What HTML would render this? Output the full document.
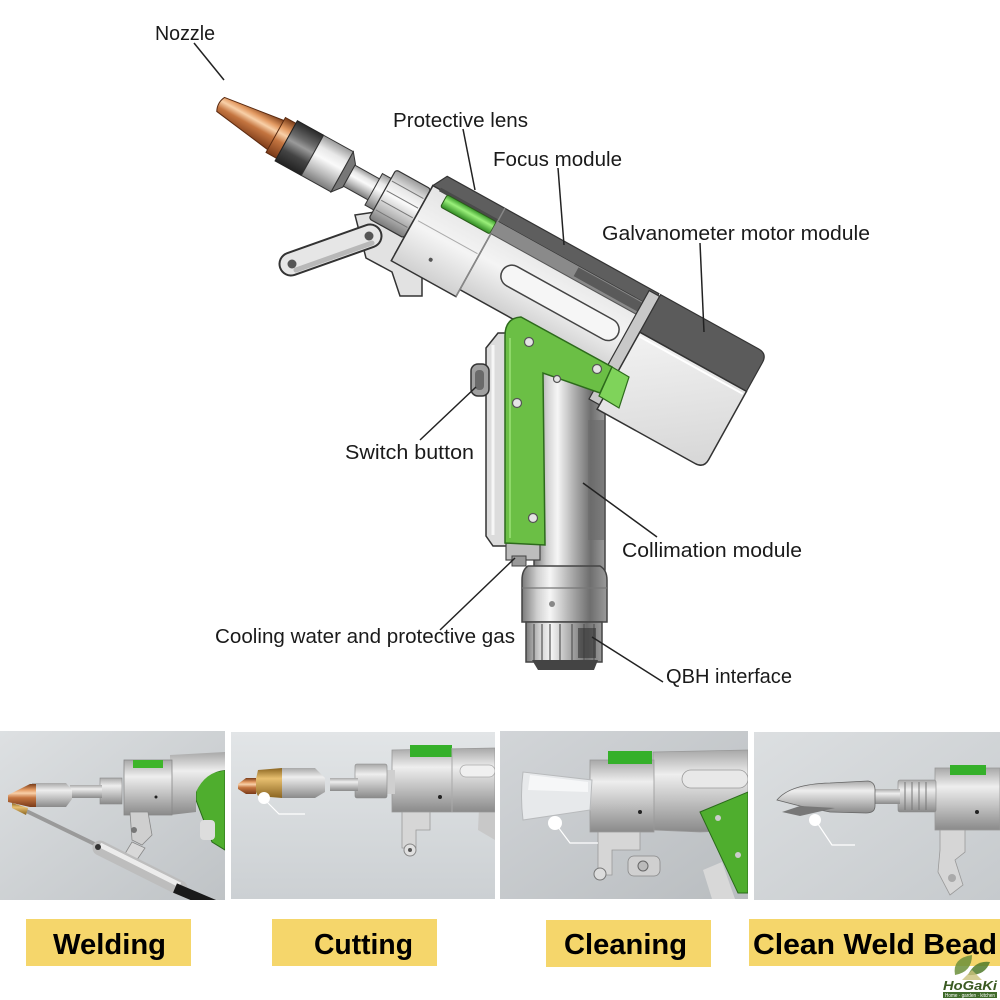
<!DOCTYPE html>
<html><head><meta charset="utf-8">
<style>
html,body{margin:0;padding:0;background:#fff;}
svg{display:block;}
text{font-family:"Liberation Sans",sans-serif;}
</style></head>
<body>
<svg width="1000" height="1000" viewBox="0 0 1000 1000" xmlns="http://www.w3.org/2000/svg">
<defs>
  <linearGradient id="copper" x1="0" y1="0" x2="0" y2="1">
    <stop offset="0" stop-color="#7a3c18"/><stop offset="0.25" stop-color="#e39a62"/>
    <stop offset="0.4" stop-color="#f8d0a8"/><stop offset="0.6" stop-color="#c47540"/>
    <stop offset="1" stop-color="#7a3a18"/>
  </linearGradient>
  <linearGradient id="darkcyl" x1="0" y1="0" x2="0" y2="1">
    <stop offset="0" stop-color="#2a2a2a"/><stop offset="0.3" stop-color="#6a6a6a"/>
    <stop offset="0.45" stop-color="#9a9a9a"/><stop offset="0.7" stop-color="#444"/>
    <stop offset="1" stop-color="#222"/>
  </linearGradient>
  <linearGradient id="silv" x1="0" y1="0" x2="0" y2="1">
    <stop offset="0" stop-color="#9a9a9a"/><stop offset="0.25" stop-color="#e8e8e8"/>
    <stop offset="0.45" stop-color="#fafafa"/><stop offset="0.75" stop-color="#b8b8b8"/>
    <stop offset="1" stop-color="#7a7a7a"/>
  </linearGradient>
  <linearGradient id="bodyg" x1="0" y1="0" x2="0" y2="1">
    <stop offset="0" stop-color="#e4e4e4"/><stop offset="0.5" stop-color="#f4f4f4"/>
    <stop offset="1" stop-color="#d0d0d0"/>
  </linearGradient>
  <linearGradient id="galvo" x1="0" y1="0" x2="1" y2="1">
    <stop offset="0" stop-color="#f2f2f2"/><stop offset="1" stop-color="#d6d6d6"/>
  </linearGradient>
  <linearGradient id="tube" x1="0" y1="0" x2="1" y2="0">
    <stop offset="0" stop-color="#7a7a7a"/><stop offset="0.18" stop-color="#d0d0d0"/>
    <stop offset="0.33" stop-color="#f6f6f6"/><stop offset="0.55" stop-color="#b4b4b4"/>
    <stop offset="0.8" stop-color="#6e6e6e"/><stop offset="1" stop-color="#9a9a9a"/>
  </linearGradient>
  <linearGradient id="greenlens" x1="0" y1="0" x2="0" y2="1">
    <stop offset="0" stop-color="#3a9a2a"/><stop offset="0.4" stop-color="#9af07a"/>
    <stop offset="1" stop-color="#2f8a22"/>
  </linearGradient>
  <linearGradient id="bg1" x1="0" y1="0" x2="1" y2="1">
    <stop offset="0" stop-color="#dde0e2"/><stop offset="1" stop-color="#bfc3c6"/>
  </linearGradient>
  <linearGradient id="bg2" x1="0" y1="0" x2="0" y2="1">
    <stop offset="0" stop-color="#e2e5e7"/><stop offset="1" stop-color="#ccd0d3"/>
  </linearGradient>
  <linearGradient id="bg3" x1="0" y1="0" x2="1" y2="1">
    <stop offset="0" stop-color="#d2d5d8"/><stop offset="1" stop-color="#b9bdc0"/>
  </linearGradient>
  <linearGradient id="bg4" x1="0" y1="0" x2="1" y2="1">
    <stop offset="0" stop-color="#dcdfe1"/><stop offset="1" stop-color="#c6cacd"/>
  </linearGradient>
  <linearGradient id="psil" x1="0" y1="0" x2="0" y2="1">
    <stop offset="0" stop-color="#a8a8a8"/><stop offset="0.3" stop-color="#eeeeee"/>
    <stop offset="0.6" stop-color="#c4c4c4"/><stop offset="1" stop-color="#8a8a8a"/>
  </linearGradient>
  <linearGradient id="brass" x1="0" y1="0" x2="0" y2="1">
    <stop offset="0" stop-color="#8a6420"/><stop offset="0.35" stop-color="#e8c070"/>
    <stop offset="1" stop-color="#8a6420"/>
  </linearGradient>
  <clipPath id="c1"><rect x="0" y="731" width="225" height="169"/></clipPath>
  <clipPath id="c2"><rect x="231" y="732" width="264" height="167"/></clipPath>
  <clipPath id="c3"><rect x="500" y="731" width="248" height="168"/></clipPath>
  <clipPath id="c4"><rect x="754" y="732" width="246" height="168"/></clipPath>
</defs>

<!-- ================= MAIN GUN ================= -->
<!-- trigger lever -->
<path d="M355,215 L402,208 L422,255 L422,296 L400,296 L392,272 L366,258 Z" fill="#e2e2e2" stroke="#333" stroke-width="1.5"/>
<line x1="291" y1="264" x2="370" y2="236" stroke="#333" stroke-width="25" stroke-linecap="round"/>
<line x1="291" y1="264" x2="370" y2="236" stroke="#e6e6e6" stroke-width="21" stroke-linecap="round"/>
<line x1="296" y1="270" x2="372" y2="243" stroke="#b8b8b8" stroke-width="5" stroke-linecap="round"/>
<circle cx="292" cy="264" r="4.5" fill="#555"/>
<circle cx="369" cy="236" r="4.5" fill="#555"/>

<!-- handle back and switch -->
<path d="M486,348 L498,333 L509,333 L509,546 L493,546 L486,536 Z" fill="#dcdcdc" stroke="#333" stroke-width="1.5"/>
<line x1="493" y1="345" x2="493" y2="535" stroke="#f6f6f6" stroke-width="3"/>
<rect x="471" y="364" width="18" height="32" rx="7" fill="#a0a0a0" stroke="#333" stroke-width="1.5"/>
<rect x="475" y="370" width="9" height="20" rx="4" fill="#6a6a6a"/>

<!-- collimation tube -->
<rect x="534" y="365" width="71" height="205" fill="url(#tube)" stroke="#444" stroke-width="1.5"/>
<rect x="588" y="420" width="16" height="120" fill="#6a6a6a" opacity="0.6"/>
<!-- bottom fittings -->
<rect x="506" y="540" width="34" height="20" fill="#bdbdbd" stroke="#444" stroke-width="1.2"/>
<rect x="512" y="556" width="14" height="10" fill="#999" stroke="#444" stroke-width="1"/>
<path d="M528,566 Q522,570 522,580 L522,622 L607,622 L607,580 Q607,570 600,566 Z" fill="url(#tube)" stroke="#444" stroke-width="1.5"/>
<line x1="522" y1="588" x2="607" y2="588" stroke="#777" stroke-width="1.2"/>
<circle cx="552" cy="604" r="3" fill="#888"/>
<rect x="526" y="622" width="76" height="40" fill="url(#tube)" stroke="#444" stroke-width="1.5"/>
<g stroke="#555" stroke-width="1.2">
  <line x1="534" y1="624" x2="534" y2="660"/><line x1="542" y1="624" x2="542" y2="660"/>
  <line x1="550" y1="624" x2="550" y2="660"/><line x1="560" y1="624" x2="560" y2="660"/>
  <line x1="572" y1="624" x2="572" y2="660"/><line x1="584" y1="624" x2="584" y2="660"/>
  <line x1="594" y1="624" x2="594" y2="660"/>
</g>
<rect x="578" y="628" width="18" height="30" fill="#333" opacity="0.6"/>
<path d="M532,660 L598,660 L594,670 L538,670 Z" fill="#444"/>

<!-- rotated barrel/body -->
<g transform="translate(218,103) rotate(29)">
  <!-- nozzle -->
  <path d="M3,-8 L68,-17 L68,17 L3,8 Q-1,0 3,-8 Z" fill="url(#copper)" stroke="#5a2a10" stroke-width="1"/>
  <rect x="66" y="-20" width="12" height="40" fill="url(#copper)" stroke="#5a2a10" stroke-width="1"/>
  <!-- dark cylinder -->
  <rect x="78" y="-23" width="30" height="46" fill="url(#darkcyl)" stroke="#222" stroke-width="1"/>
  <rect x="108" y="-23" width="34" height="46" fill="url(#silv)" stroke="#333" stroke-width="1"/>
  <path d="M142,-23 L150,-13 L150,13 L142,23 Z" fill="#777" stroke="#333" stroke-width="1"/>
  <!-- thin tube -->
  <rect x="150" y="-12" width="30" height="24" fill="url(#silv)" stroke="#333" stroke-width="1"/>
  <rect x="178" y="-18" width="10" height="36" fill="url(#silv)" stroke="#333" stroke-width="1"/>
  <!-- collar -->
  <rect x="188" y="-28" width="40" height="56" rx="3" fill="url(#silv)" stroke="#333" stroke-width="1.2"/>
  <g stroke="#777" stroke-width="1"><line x1="190" y1="-16" x2="226" y2="-16"/><line x1="190" y1="-5" x2="226" y2="-5"/><line x1="190" y1="6" x2="226" y2="6"/><line x1="190" y1="17" x2="226" y2="17"/></g>
  <!-- body -->
  <rect x="228" y="-32" width="250" height="78" fill="url(#bodyg)" stroke="#333" stroke-width="1.5"/>
  <rect x="228" y="-32" width="74" height="86" fill="url(#bodyg)" stroke="#333" stroke-width="1.5"/>
  <path d="M228,-32 L236,-47 L478,-47 L478,-32 Z" fill="#5e5e5e" stroke="#333" stroke-width="1.2"/>
  <rect x="236" y="-34" width="66" height="4" fill="#4a4a4a"/>
  <rect x="245" y="-31" width="56" height="14" rx="2" fill="url(#greenlens)" stroke="#2a5a1a" stroke-width="1"/>
  <line x1="302" y1="-47" x2="302" y2="54" stroke="#888" stroke-width="1.5"/>
  <rect x="302" y="-32" width="176" height="14" fill="#8a8a8a"/>
  <rect x="395" y="-31" width="78" height="10" fill="#5a5a5a"/>
  <line x1="302" y1="-18" x2="478" y2="-18" stroke="#555" stroke-width="1"/>
  <line x1="232" y1="6" x2="300" y2="6" stroke="#aaa" stroke-width="1"/>
  <rect x="330" y="-2" width="132" height="22" rx="11" fill="#f6f6f6" stroke="#444" stroke-width="1.5"/>
  <circle cx="262" cy="34" r="2" fill="#555"/>
  <!-- galvo -->
  <rect x="468" y="-45" width="12" height="124" fill="#c8c8c8" stroke="#333" stroke-width="1.2"/>
  <path d="M480,-47 L592,-47 Q602,-47 602,-37 L602,-4 L480,-4 Z" fill="#5b5b5b" stroke="#333" stroke-width="1.2"/>
  <path d="M480,-4 L602,-4 L602,74 Q602,84 592,84 L480,84 Z" fill="url(#galvo)" stroke="#333" stroke-width="1.5"/>
  <line x1="482" y1="0" x2="600" y2="0" stroke="#ffffff" stroke-width="2"/>
</g>

<!-- green L plate -->
<path d="M505,336 Q505,318 521,317 L612,367 L600,393 L543,373 L545,545 L505,543 Z" fill="#6bbf45" stroke="#2d6a1c" stroke-width="1.5"/>
<path d="M510,338 L510,538" stroke="#8fd86a" stroke-width="2"/>
<path d="M612,367 L629,377 L619,408 L599,396 Z" fill="#7fd35a" stroke="#2d6a1c" stroke-width="1.2"/>
<g fill="#e4e4e4" stroke="#555" stroke-width="1.2">
  <circle cx="529" cy="342" r="4.5"/><circle cx="597" cy="369" r="4.5"/>
  <circle cx="517" cy="403" r="4.5"/><circle cx="533" cy="518" r="4.5"/>
  <circle cx="557" cy="379" r="3.5"/>
</g>

<!-- leader lines -->
<g stroke="#222" stroke-width="1.5" fill="none">
  <line x1="194" y1="43" x2="224" y2="80"/>
  <line x1="463" y1="129" x2="475" y2="190"/>
  <line x1="558" y1="168" x2="564" y2="245"/>
  <line x1="700" y1="243" x2="704" y2="332"/>
  <line x1="420" y1="440" x2="476" y2="387"/>
  <line x1="583" y1="483" x2="657" y2="537"/>
  <line x1="440" y1="630" x2="515" y2="558"/>
  <line x1="592" y1="637" x2="663" y2="682"/>
</g>

<!-- labels -->
<g font-size="20" fill="#1a1a1a">
  <text x="155" y="40" textLength="60" lengthAdjust="spacingAndGlyphs">Nozzle</text>
  <text x="393" y="127" textLength="135" lengthAdjust="spacingAndGlyphs">Protective lens</text>
  <text x="493" y="166" textLength="129" lengthAdjust="spacingAndGlyphs">Focus module</text>
  <text x="602" y="240" textLength="268" lengthAdjust="spacingAndGlyphs">Galvanometer motor module</text>
  <text x="345" y="459" textLength="129" lengthAdjust="spacingAndGlyphs">Switch button</text>
  <text x="622" y="557" textLength="180" lengthAdjust="spacingAndGlyphs">Collimation module</text>
  <text x="215" y="643" textLength="300" lengthAdjust="spacingAndGlyphs">Cooling water and protective gas</text>
  <text x="666" y="683" textLength="126" lengthAdjust="spacingAndGlyphs">QBH interface</text>
</g>

<!-- ================= PHOTO 1: Welding ================= -->
<g clip-path="url(#c1)">
  <rect x="0" y="731" width="225" height="169" fill="url(#bg1)"/>
  <!-- green plate -->
  <path d="M196,792 Q200,776 215,772 L225,770 L225,850 L212,842 L196,800 Z" fill="#4fae2e" stroke="#2a6a1a" stroke-width="1"/>
  <!-- body -->
  <path d="M170,755 L225,752 L225,770 Q205,772 196,792 L196,812 L170,815 Z" fill="url(#psil)"/>
  <rect x="124" y="760" width="48" height="55" fill="url(#psil)" stroke="#888" stroke-width="0.8"/>
  <rect x="133" y="760" width="30" height="8" fill="#3eb52a"/>
  <circle cx="156" cy="797" r="1.5" fill="#222"/>
  <!-- bracket -->
  <path d="M130,812 L148,812 L152,835 L142,845 L132,840 Z" fill="#cfcfcf" stroke="#888" stroke-width="0.8"/>
  <path d="M132,842 L145,848 L130,870 L120,862 Z" fill="#d8d8d8" stroke="#888" stroke-width="0.8"/>
  <circle cx="134" cy="830" r="3" fill="#777"/>
  <!-- grip parts -->
  <rect x="200" y="820" width="15" height="20" rx="4" fill="#ddd"/>
  <!-- nozzle -->
  <rect x="100" y="778" width="22" height="26" fill="url(#psil)" stroke="#888" stroke-width="0.6"/>
  <rect x="70" y="785" width="32" height="13" fill="url(#psil)"/>
  <path d="M32,783 L66,783 L72,790 L72,799 L66,807 L32,807 Z" fill="url(#psil)"/>
  <path d="M8,795 L30,784 L36,784 L36,807 L30,807 L8,802 Z" fill="url(#copper)"/>
  <!-- wire feeder -->
  <line x1="16" y1="806" x2="140" y2="866" stroke="#9a9a9a" stroke-width="4"/>
  <path d="M12,803 L28,808 L26,815 L12,808 Z" fill="url(#brass)"/>
  <line x1="100" y1="848" x2="180" y2="888" stroke="#bdbdbd" stroke-width="15" stroke-linecap="round"/>
  <line x1="100" y1="845" x2="180" y2="885" stroke="#ececec" stroke-width="5"/>
  <circle cx="98" cy="847" r="3" fill="#333"/>
  <line x1="175" y1="888" x2="215" y2="905" stroke="#1a1a1a" stroke-width="10"/>
</g>

<!-- ================= PHOTO 2: Cutting ================= -->
<g clip-path="url(#c2)">
  <rect x="231" y="732" width="264" height="167" fill="url(#bg2)"/>
  <path d="M480,785 Q495,778 495,778 L495,840 L478,830 Z" fill="#c8c8c8"/>
  <path d="M485,790 L495,782 L495,800 Z" fill="#4fae2e"/>
  <path d="M392,750 L495,748 L495,812 L392,812 Z" fill="url(#psil)" stroke="#999" stroke-width="0.8"/>
  <rect x="410" y="745" width="42" height="12" fill="#35b02a"/>
  <line x1="452" y1="748" x2="452" y2="812" stroke="#aaa" stroke-width="1"/>
  <rect x="460" y="765" width="35" height="12" rx="6" fill="#f0f0f0" stroke="#aaa" stroke-width="0.8"/>
  <circle cx="440" cy="797" r="2" fill="#222"/>
  <path d="M402,812 L430,812 L430,830 L416,830 L416,848 L402,848 Z" fill="#d6d6d6" stroke="#999" stroke-width="0.8"/>
  <circle cx="410" cy="850" r="6" fill="#e0e0e0" stroke="#888" stroke-width="1"/>
  <circle cx="410" cy="850" r="2" fill="#555"/>
  <rect x="385" y="770" width="10" height="24" fill="#cfcfcf"/>
  <rect x="355" y="764" width="32" height="34" rx="2" fill="url(#psil)" stroke="#888" stroke-width="0.6"/>
  <rect x="330" y="778" width="28" height="13" fill="url(#psil)"/>
  <path d="M282,768 L315,768 L325,778 L325,792 L315,798 L282,798 Z" fill="url(#psil)"/>
  <path d="M258,770 L282,768 L282,798 L258,796 L254,788 Z" fill="url(#brass)"/>
  <path d="M238,784 L246,778 L256,778 L256,794 L246,794 L238,789 Z" fill="url(#copper)"/>
  <circle cx="264" cy="798" r="6" fill="#ffffff"/>
  <polyline points="266,801 279,814 305,814" fill="none" stroke="#ffffff" stroke-width="1.2"/>
</g>

<!-- ================= PHOTO 3: Cleaning ================= -->
<g clip-path="url(#c3)">
  <rect x="500" y="731" width="248" height="168" fill="url(#bg3)"/>
  <path d="M653,752 L748,750 L748,830 L700,832 L653,830 Z" fill="url(#psil)" stroke="#999" stroke-width="0.8"/>
  <rect x="682" y="770" width="66" height="18" rx="9" fill="#e8e8e8" stroke="#999" stroke-width="0.8"/>
  <path d="M700,812 L748,792 L748,893 L738,893 Z" fill="#4fae2e" stroke="#2a6a1a" stroke-width="1"/>
  <circle cx="718" cy="818" r="3" fill="#ccc"/><circle cx="738" cy="855" r="3" fill="#ccc"/>
  <path d="M703,870 L722,862 L735,899 L712,899 Z" fill="#d8d8d8"/>
  <rect x="590" y="760" width="64" height="72" fill="url(#psil)" stroke="#999" stroke-width="0.8"/>
  <rect x="608" y="751" width="44" height="13" fill="#35b02a"/>
  <circle cx="640" cy="812" r="2" fill="#222"/>
  <path d="M598,832 L640,832 L640,850 L612,850 L612,875 L598,875 Z" fill="#d6d6d6" stroke="#999" stroke-width="0.8"/>
  <circle cx="600" cy="874" r="6" fill="#dcdcdc" stroke="#777" stroke-width="1"/>
  <rect x="628" y="856" width="32" height="20" rx="6" fill="#d0d0d0" stroke="#888" stroke-width="0.8"/>
  <circle cx="643" cy="866" r="5" fill="#bbb" stroke="#666" stroke-width="1"/>
  <path d="M523,772 Q520,796 523,820 L590,810 L592,780 Z" fill="#e7e9eb" stroke="#b8babc" stroke-width="1"/>
  <path d="M530,775 L588,782 L588,792 L528,790 Z" fill="#f6f7f8"/>
  <circle cx="555" cy="823" r="7" fill="#ffffff"/>
  <polyline points="558,827 570,843 598,843" fill="none" stroke="#ffffff" stroke-width="1.2"/>
</g>

<!-- ================= PHOTO 4: Clean Weld Bead ================= -->
<g clip-path="url(#c4)">
  <rect x="754" y="732" width="246" height="168" fill="url(#bg4)"/>
  <rect x="935" y="768" width="65" height="62" fill="url(#psil)" stroke="#999" stroke-width="0.8"/>
  <rect x="950" y="765" width="36" height="10" fill="#35b02a"/>
  <circle cx="977" cy="812" r="2" fill="#222"/>
  <path d="M940,830 L965,830 L965,852 L955,860 L963,885 L950,895 L938,872 L940,850 Z" fill="#d6d6d6" stroke="#999" stroke-width="0.8"/>
  <circle cx="952" cy="878" r="4" fill="#aaa"/>
  <rect x="898" y="780" width="38" height="32" rx="2" fill="url(#psil)" stroke="#888" stroke-width="0.6"/>
  <g stroke="#777" stroke-width="1"><line x1="905" y1="782" x2="905" y2="810"/><line x1="912" y1="782" x2="912" y2="810"/><line x1="919" y1="782" x2="919" y2="810"/><line x1="926" y1="782" x2="926" y2="810"/></g>
  <rect x="872" y="789" width="28" height="15" fill="url(#psil)"/>
  <path d="M777,800 Q790,784 830,783 L868,781 Q875,782 875,790 L875,806 Q875,813 866,813 L830,812 L800,806 Z" fill="url(#psil)" stroke="#666" stroke-width="0.8"/>
  <path d="M782,812 L800,806 L835,808 L800,816 Z" fill="#777"/>
  <circle cx="815" cy="820" r="6" fill="#ffffff"/>
  <polyline points="818,824 832,845 855,845" fill="none" stroke="#ffffff" stroke-width="1.2"/>
</g>

<!-- ================= Yellow labels ================= -->
<g fill="#f5d66b">
  <rect x="26" y="919" width="165" height="47"/>
  <rect x="272" y="919" width="165" height="47"/>
  <rect x="546" y="920" width="165" height="47"/>
  <rect x="749" y="919" width="251" height="47"/>
</g>
<g font-size="29" font-weight="bold" fill="#000">
  <text x="53" y="954" textLength="113" lengthAdjust="spacingAndGlyphs">Welding</text>
  <text x="314" y="954" textLength="99" lengthAdjust="spacingAndGlyphs">Cutting</text>
  <text x="564" y="954" textLength="123" lengthAdjust="spacingAndGlyphs">Cleaning</text>
  <text x="753" y="954" textLength="244" lengthAdjust="spacingAndGlyphs">Clean Weld Bead</text>
</g>

<!-- logo -->
<g>
  <path d="M955,975 Q952,958 972,955 Q972,972 955,975 Z" fill="#6b8f3a" opacity="0.85"/>
  <path d="M968,975 Q975,960 990,962 Q985,976 968,975 Z" fill="#4f7a2a" opacity="0.85"/>
  <path d="M962,980 L972,970 L982,980 Z" fill="#c9c27a" opacity="0.8"/>
  <text x="943" y="990" font-family="Liberation Serif,serif" font-size="13" font-style="italic" font-weight="bold" fill="#3a5a22" textLength="54" lengthAdjust="spacingAndGlyphs">HoGaKi</text>
  <rect x="943" y="992" width="54" height="6" fill="#3f6a2a"/>
  <text x="945" y="997" font-size="5" fill="#fff" textLength="50" lengthAdjust="spacingAndGlyphs">Home · garden · kitchen</text>
</g>
</svg>
</body></html>
